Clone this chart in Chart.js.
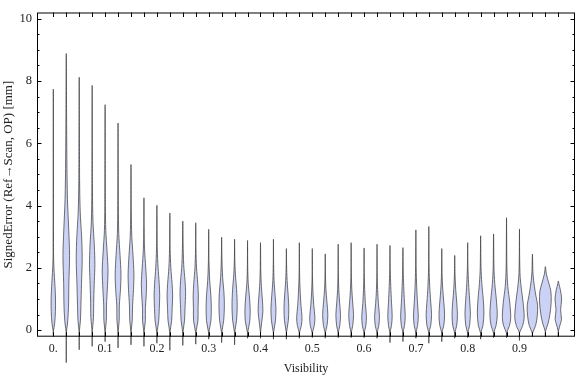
<!DOCTYPE html>
<html>
<head>
<meta charset="utf-8">
<script src="https://cdn.jsdelivr.net/npm/chart.js@4/dist/chart.umd.min.js"></script>
<style>
  html, body { margin: 0; padding: 0; background: #fff; }
  #wrap { width: 576px; height: 377px; }
</style>
</head>
<body>
<div id="wrap"><canvas id="violinChart"></canvas></div>
<script>
// violin positions (Visibility bins)
var visibility = [0, 0.025, 0.05, 0.075, 0.1, 0.125, 0.15, 0.175, 0.2, 0.225,
                  0.25, 0.275, 0.3, 0.325, 0.35, 0.375, 0.4, 0.425, 0.45, 0.475,
                  0.5, 0.525, 0.55, 0.575, 0.6, 0.625, 0.65, 0.675, 0.7, 0.725,
                  0.75, 0.775, 0.8, 0.825, 0.85, 0.875, 0.9, 0.925, 0.95, 0.975];

// lowest / highest signed error in each bin [mm]
var errMin = [-0.16, -1.04, -0.63, -0.52, -0.37, -0.57, -0.47, -0.52, -0.42, -0.65,
              -0.49, -0.45, -0.29, -0.40, -0.47, -0.26, -0.26, -0.29, -0.29, -0.26,
              -0.24, -0.26, -0.24, -0.24, -0.24, -0.26, -0.40, -0.37, -0.26, -0.42,
              -0.37, -0.26, -0.24, -0.29, -0.24, -0.24, -0.33, -0.19, -0.21, -0.21];
var errMax = [7.74, 8.88, 8.12, 7.86, 7.24, 6.65, 5.32, 4.25, 4.01, 3.76,
              3.50, 3.45, 3.24, 2.98, 2.92, 2.88, 2.81, 2.92, 2.62, 2.81,
              2.62, 2.45, 2.76, 2.81, 2.64, 2.76, 2.72, 2.65, 3.22, 3.33,
              2.62, 2.40, 2.81, 3.03, 3.09, 3.61, 3.25, 2.44, 2.04, 1.58];

// density profile of each bin: [error, density]
var densities = [
  [[-0.05,0],[0.2,1.3],[0.6,2.1],[1.0,2.2],[1.4,1.7],[2.0,0.6],[2.5,0.2]],
  [[-0.1,0],[0.2,1.2],[0.7,2.2],[1.5,2.6],[2.4,3.3],[3.2,2.5],[4.2,1.2],[5.5,0.6],[7,0.3]],
  [[-0.1,0],[0.3,1.2],[0.8,1.7],[1.5,2.3],[2.3,3.0],[3.0,2.4],[3.8,1.0],[4.8,0.4]],
  [[-0.1,0],[0.4,1.3],[1.0,1.6],[1.6,2.2],[2.1,2.7],[2.7,2.2],[3.5,0.8],[4.5,0.3]],
  [[-0.1,0],[0.3,1.2],[0.8,1.4],[1.3,2.2],[1.9,2.9],[2.5,2.0],[3.2,0.7],[4,0.3]],
  [[-0.1,0],[0.3,1.1],[0.8,1.3],[1.3,2.4],[1.8,2.9],[2.4,2.0],[3.1,0.7],[4,0.3]],
  [[-0.1,0],[0.3,1.2],[0.8,1.6],[1.3,2.5],[1.8,2.9],[2.4,2.0],[3.0,0.8],[3.8,0.3]],
  [[-0.1,0],[0.3,1.4],[0.7,1.4],[1.1,2.2],[1.5,2.6],[2.0,1.8],[2.6,0.6],[3.3,0.2]],
  [[-0.1,0],[0.3,1.8],[0.7,2.4],[1.1,2.8],[1.5,2.3],[2.0,1.2],[2.6,0.4]],
  [[-0.1,0],[0.3,1.8],[0.7,2.3],[1.1,2.8],[1.5,2.2],[2.0,1.0],[2.6,0.3]],
  [[-0.1,0],[0.3,1.7],[0.7,2.2],[1.2,2.8],[1.6,2.2],[2.1,0.9],[2.8,0.3]],
  [[-0.1,0],[0.3,2.2],[0.7,2.3],[1.1,2.6],[1.5,2.0],[2.0,0.8],[2.6,0.2]],
  [[-0.1,0],[0.3,2.2],[0.7,2.6],[1.1,2.2],[1.6,1.0],[2.2,0.3]],
  [[-0.1,0],[0.3,2.0],[0.8,2.7],[1.2,2.3],[1.7,1.0],[2.3,0.3]],
  [[-0.1,0],[0.3,1.9],[0.8,2.6],[1.3,2.0],[1.8,0.8],[2.3,0.2]],
  [[-0.1,0],[0.3,2.3],[0.7,2.6],[1.1,1.8],[1.5,0.7],[2.0,0.2]],
  [[-0.1,0],[0.2,1.0],[0.6,2.4],[1.0,1.8],[1.4,0.9],[1.9,0.3]],
  [[-0.1,0],[0.3,2.0],[0.7,2.5],[1.1,1.7],[1.6,0.6],[2.1,0.2]],
  [[-0.1,0],[0.3,1.9],[0.7,2.4],[1.1,1.8],[1.6,0.7],[2.1,0.2]],
  [[-0.1,0],[0.15,2.0],[0.4,2.7],[0.8,1.6],[1.2,0.9],[1.7,0.3]],
  [[-0.1,0],[0.15,2.0],[0.4,2.6],[0.8,1.5],[1.2,0.7],[1.7,0.2]],
  [[-0.1,0],[0.15,1.8],[0.5,2.6],[0.9,1.7],[1.3,0.7],[1.8,0.2]],
  [[-0.1,0],[0.15,1.6],[0.5,2.3],[0.9,1.4],[1.3,0.6],[1.8,0.2]],
  [[-0.1,0],[0.15,1.6],[0.5,2.4],[0.9,1.5],[1.3,0.7],[1.8,0.2]],
  [[-0.1,0],[0.15,1.8],[0.45,2.3],[0.85,1.3],[1.3,0.6],[1.8,0.2]],
  [[-0.1,0],[0.15,1.8],[0.45,2.4],[0.85,1.4],[1.3,0.6],[1.8,0.2]],
  [[-0.1,0],[0.15,1.5],[0.45,2.2],[0.9,1.5],[1.4,0.8],[1.9,0.3]],
  [[-0.1,0],[0.15,1.6],[0.45,2.3],[0.9,1.5],[1.4,0.8],[1.9,0.3]],
  [[-0.1,0],[0.15,1.7],[0.45,2.4],[0.9,1.6],[1.4,0.8],[2.0,0.3]],
  [[-0.1,0],[0.15,1.9],[0.5,2.7],[0.9,1.9],[1.4,0.9],[2.0,0.3]],
  [[-0.1,0],[0.15,2.0],[0.5,2.8],[0.9,2.0],[1.3,1.0],[1.8,0.3]],
  [[-0.1,0],[0.15,2.0],[0.5,2.7],[0.9,2.0],[1.3,1.0],[1.8,0.3]],
  [[-0.1,0],[0.15,1.9],[0.55,2.7],[1.0,1.9],[1.5,0.9],[2.0,0.3]],
  [[-0.1,0],[0.15,2.3],[0.55,3.3],[1.0,2.6],[1.5,1.2],[2.0,0.4]],
  [[-0.1,0],[0.15,2.5],[0.5,3.7],[1.0,2.7],[1.5,1.2],[2.0,0.4]],
  [[-0.1,0],[0.15,3.0],[0.4,4.2],[0.9,3.2],[1.4,1.3],[2.0,0.4]],
  [[-0.1,0],[0.15,3.2],[0.4,4.7],[0.9,3.6],[1.3,2.0],[1.7,0.7],[2.3,0.2]],
  [[-0.1,0],[0.15,3.2],[0.45,4.8],[0.8,5.2],[1.1,3.5],[1.4,2.0],[1.8,0.6]],
  [[-0.05,0],[0.2,2.5],[0.5,4.5],[0.9,5.8],[1.25,5.5],[1.5,3.5],[1.8,1.0]],
  [[-0.05,0],[0.2,2.0],[0.35,3.2],[0.65,2.3],[1.0,3.3],[1.3,2.0],[1.5,0.5]]
];

var xTicks = [0, 0.1, 0.2, 0.3, 0.4, 0.5, 0.6, 0.7, 0.8, 0.9];
var xTickLabels = ['0.', '0.1', '0.2', '0.3', '0.4', '0.5', '0.6', '0.7', '0.8', '0.9'];
var yTicks = [0, 2, 4, 6, 8, 10];
var yMinorTicks = [0.5, 1, 1.5, 2.5, 3, 3.5, 4.5, 5, 5.5, 6.5, 7, 7.5, 8.5, 9, 9.5];

var widthScale = 1 / 518; // density -> half width on the x axis

// one closed outline per violin
function violinOutline(i) {
  var c = visibility[i];
  var prof = densities[i];
  var pts = [{x: c, y: errMin[i]}];
  prof.forEach(function (p) { pts.push({x: c + p[1] * widthScale, y: p[0]}); });
  pts.push({x: c, y: errMax[i]});
  prof.slice().reverse().forEach(function (p) { pts.push({x: c - p[1] * widthScale, y: p[0]}); });
  pts.push({x: c, y: errMin[i]});
  return pts;
}

var datasets = visibility.map(function (v, i) {
  return {
    data: violinOutline(i),
    fill: 'shape',
    backgroundColor: 'rgb(204, 210, 245)',
    borderColor: 'rgba(55, 55, 55, 0.7)',
    borderWidth: 1,
    pointRadius: 0,
    tension: 0.3,
    clip: false
  };
});

var frameTicks = {
  id: 'frameTicks',
  afterDatasetsDraw: function (chart) {
    var ctx = chart.ctx, a = chart.chartArea;
    var x = chart.scales.x, y = chart.scales.y;
    ctx.save();
    ctx.strokeStyle = '#000';
    ctx.lineWidth = 1;
    ctx.strokeRect(a.left + 0.5, a.top + 0.5, a.right - a.left - 1, a.bottom - a.top - 1);
    ctx.beginPath();
    visibility.forEach(function (v) {
      var px = Math.round(x.getPixelForValue(v)) + 0.5;
      ctx.moveTo(px, a.top); ctx.lineTo(px, a.top + 4.5);
      ctx.moveTo(px, a.bottom); ctx.lineTo(px, a.bottom - 4.5);
    });
    function yTick(v, len) {
      var py = Math.round(y.getPixelForValue(v)) + 0.5;
      ctx.moveTo(a.left, py); ctx.lineTo(a.left + len, py);
      ctx.moveTo(a.right, py); ctx.lineTo(a.right - len, py);
    }
    yTicks.forEach(function (v) { yTick(v, 4.5); });
    yMinorTicks.forEach(function (v) { yTick(v, 2.5); });
    ctx.stroke();
    ctx.restore();
  }
};

var ctx = document.getElementById('violinChart').getContext('2d');
var violinChart = new Chart(ctx, {
  type: 'line',
  data: { datasets: datasets },
  options: {
    responsive: true,
    maintainAspectRatio: false,
    animation: false,
    layout: { padding: { top: 4.5, right: 1, left: 0, bottom: 0 } },
    plugins: {
      legend: { display: false },
      tooltip: { enabled: false }
    },
    elements: { line: { capBezierPoints: false } },
    scales: {
      x: {
        type: 'linear',
        min: -0.0315,
        max: 1.0072,
        afterFit: function (s) { s.height = 40.3; },
        afterBuildTicks: function (s) { s.ticks = xTicks.map(function (v) { return {value: v}; }); },
        grid: { display: false, drawTicks: false },
        border: { display: false },
        ticks: {
          autoSkip: false,
          maxRotation: 0,
          padding: 5,
          color: '#222',
          font: { family: 'Liberation Serif', size: 12 },
          callback: function (v, idx) { return xTickLabels[idx]; }
        },
        title: {
          display: true,
          text: 'Visibility',
          color: '#222',
          font: { family: 'Liberation Serif', size: 12 },
          padding: { top: 0, bottom: 1 }
        }
      },
      y: {
        min: -0.21,
        max: 10.2,
        afterFit: function (s) { s.width = 37; },
        afterBuildTicks: function (s) { s.ticks = yTicks.map(function (v) { return {value: v}; }); },
        grid: { display: false, drawTicks: false },
        border: { display: false },
        ticks: {
          padding: 5,
          color: '#222',
          font: { family: 'Liberation Serif', size: 12.5 },
          callback: function (v) { return String(v); }
        },
        title: {
          display: true,
          text: 'SignedError (Ref\u2192Scan, OP) [mm]',
          color: '#222',
          font: { family: 'Liberation Serif', size: 13 },
          padding: { top: 0.5, bottom: 0 }
        }
      }
    }
  },
  plugins: [frameTicks]
});
</script>
</body>
</html>
